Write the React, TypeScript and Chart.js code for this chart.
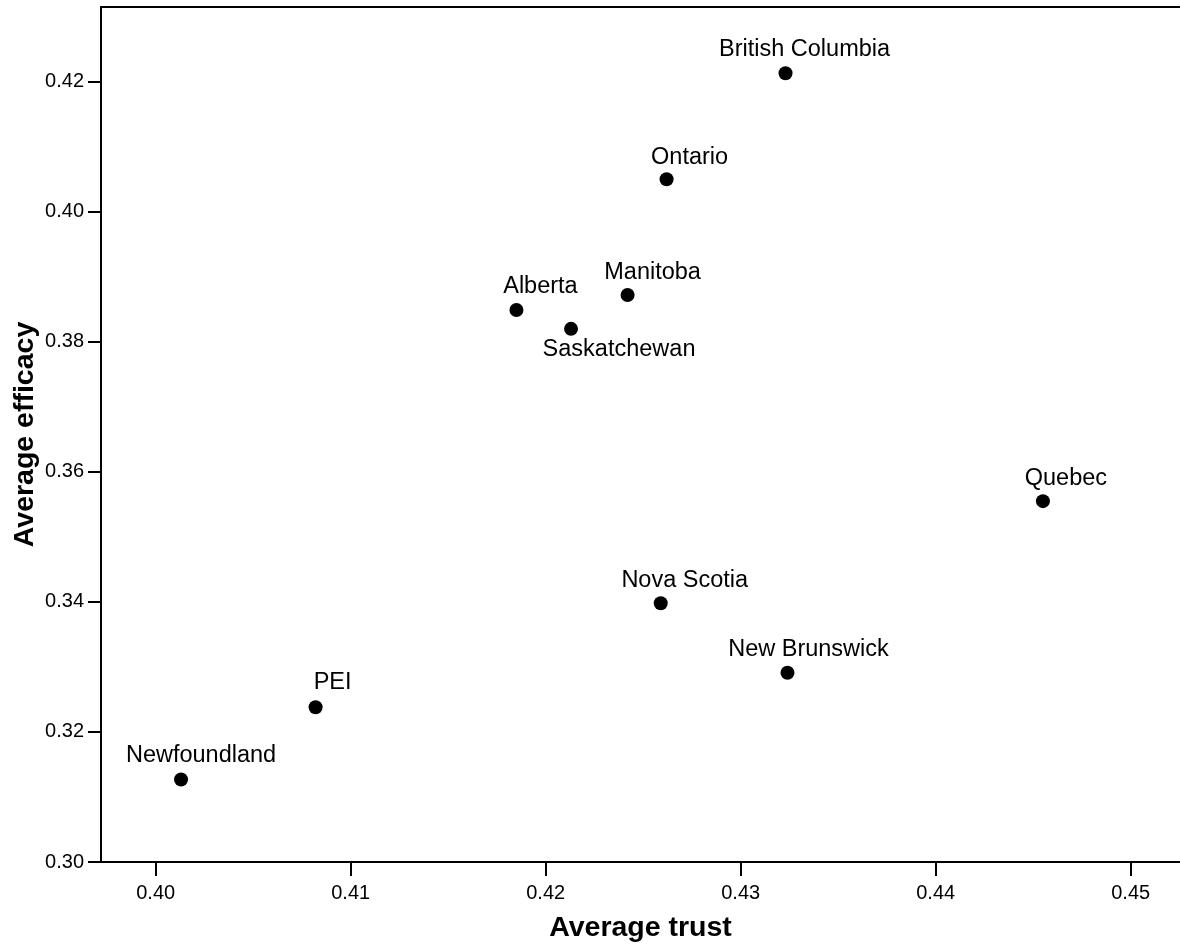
import React, { useEffect, useRef } from "react";
import { Chart, registerables } from "chart.js";

Chart.register(...registerables);

const provinces = [
  "British Columbia",
  "Ontario",
  "Manitoba",
  "Alberta",
  "Saskatchewan",
  "Quebec",
  "Nova Scotia",
  "New Brunswick",
  "PEI",
  "Newfoundland",
];
const avgTrust = [0.4323, 0.4262, 0.4242, 0.4185, 0.4213, 0.4455, 0.4259, 0.4324, 0.4082, 0.4013];
const avgEfficacy = [0.4213, 0.405, 0.3872, 0.3849, 0.382, 0.3555, 0.3398, 0.3291, 0.3238, 0.3127];
const xTicks = [0.4, 0.41, 0.42, 0.43, 0.44, 0.45];
const yTicks = [0.3, 0.32, 0.34, 0.36, 0.38, 0.4, 0.42];

// label placement relative to each point (px)
const labelDx = [19, 23, 25, 24, 48, 23, 24, 21, 17, 20];
const labelDy = [-24, -22, -23, -23, 21, -23, -23, -23, -25, -24];

const FONT = "'Liberation Sans', Arial, sans-serif";

export default function App() {
  const ref = useRef<HTMLCanvasElement | null>(null);

  useEffect(() => {
    document.body.style.margin = "0";
    const canvas = ref.current;
    if (!canvas) return;

    const labelPlugin = {
      id: "pointLabels",
      afterDatasetsDraw(chart: any) {
        const ctx = chart.ctx;
        const meta = chart.getDatasetMeta(0);
        ctx.save();
        ctx.font = `23.5px ${FONT}`;
        ctx.fillStyle = "#000";
        ctx.textAlign = "center";
        ctx.textBaseline = "middle";
        meta.data.forEach((pt: any, i: number) => {
          ctx.fillText(provinces[i], pt.x + labelDx[i], pt.y + labelDy[i]);
        });
        ctx.restore();
      },
      afterDraw(chart: any) {
        const { ctx, chartArea } = chart;
        ctx.save();
        ctx.strokeStyle = "#000";
        ctx.lineWidth = 2;
        ctx.beginPath();
        ctx.moveTo(chartArea.left - 1, chartArea.top);
        ctx.lineTo(chartArea.right, chartArea.top);
        ctx.stroke();
        ctx.restore();
      },
    };

    const chart = new Chart(canvas, {
      type: "scatter",
      data: {
        datasets: [
          {
            label: "Provinces",
            data: avgTrust.map((x, i) => ({ x, y: avgEfficacy[i] })),
            backgroundColor: "#000",
            borderWidth: 0,
            pointRadius: 7,
            pointHoverRadius: 7,
            clip: false,
          },
        ],
      },
      options: {
        animation: false,
        responsive: false,
        maintainAspectRatio: false,
        layout: { autoPadding: false, padding: { top: 7, right: 0, left: 0, bottom: 0 } },
        plugins: {
          legend: { display: false },
          tooltip: { enabled: false },
        },
        scales: {
          x: {
            type: "linear",
            min: 0.397195,
            max: 0.45253,
            afterBuildTicks: (scale: any) => {
              scale.ticks = xTicks.map((v) => ({ value: v }));
            },
            afterFit: (scale: any) => {
              scale.height = 87;
              scale.paddingLeft = 0;
              scale.paddingRight = 0;
            },
            grid: {
              drawOnChartArea: false,
              drawTicks: true,
              tickLength: 14,
              color: "#000",
              lineWidth: 2,
            },
            border: { display: true, color: "#000", width: 2 },
            ticks: {
              color: "#000",
              font: { family: FONT, size: 20 },
              padding: 5,
              maxRotation: 0,
              callback: (v: any) => Number(v).toFixed(2),
            },
            title: {
              display: true,
              text: "Average trust",
              color: "#000",
              font: { family: FONT, size: 28.5, weight: "bold" },
              padding: { top: 0, bottom: 4 },
            },
          },
          y: {
            type: "linear",
            min: 0.3,
            max: 0.4315,
            afterBuildTicks: (scale: any) => {
              scale.ticks = yTicks.map((v) => ({ value: v }));
            },
            afterFit: (scale: any) => {
              scale.width = 101;
              scale.paddingTop = 0;
              scale.paddingBottom = 0;
            },
            grid: {
              drawOnChartArea: false,
              drawTicks: true,
              tickLength: 13,
              color: "#000",
              lineWidth: 2,
            },
            border: { display: true, color: "#000", width: 2 },
            ticks: {
              color: "#000",
              font: { family: FONT, size: 20 },
              padding: 4,
              callback: (v: any) => Number(v).toFixed(2),
            },
            title: {
              display: true,
              text: "Average efficacy",
              color: "#000",
              font: { family: FONT, size: 28.5, weight: "bold" },
              padding: { top: 8, bottom: 0 },
            },
          },
        },
      },
      plugins: [labelPlugin],
    });

    return () => chart.destroy();
  }, []);

  return (
    <div style={{ width: 1180, height: 949 }}>
      <canvas ref={ref} width={1180} height={949} style={{ display: "block" }} />
    </div>
  );
}
